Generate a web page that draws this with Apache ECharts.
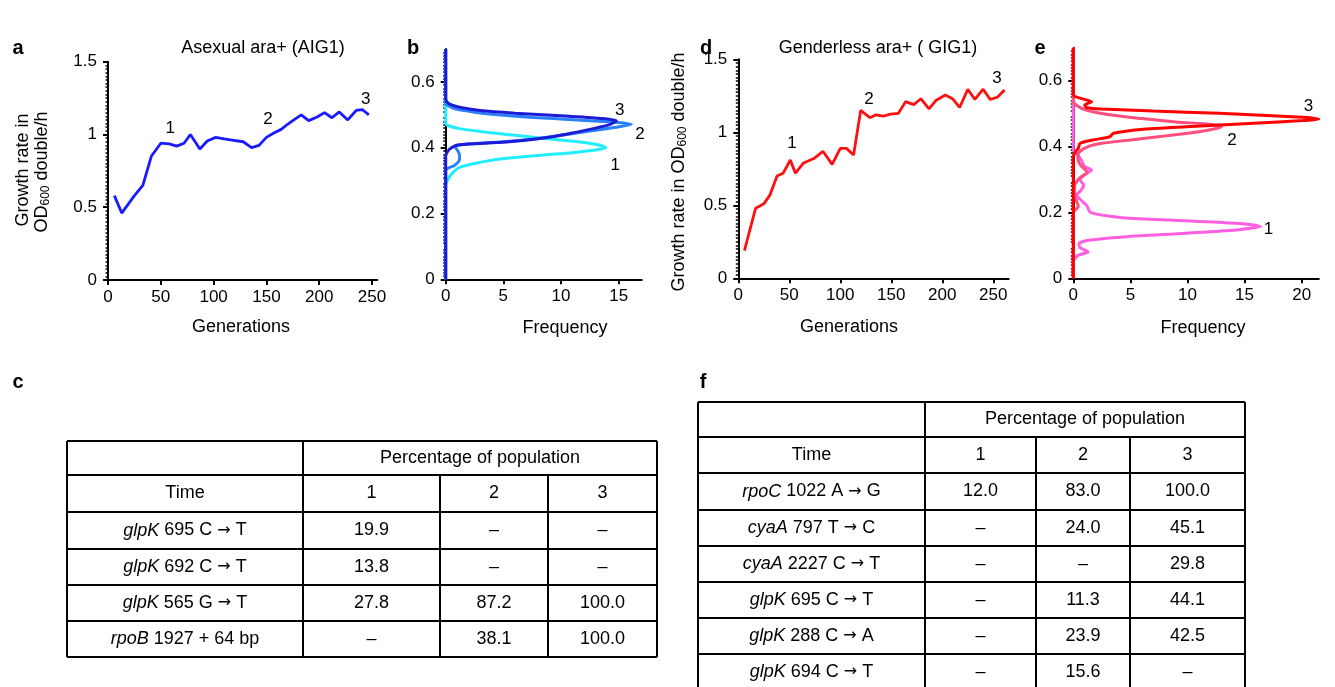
<!DOCTYPE html>
<html>
<head>
<meta charset="utf-8">
<script src="https://cdn.jsdelivr.net/npm/echarts@6/dist/echarts.min.js"></script>
<style>
  html, body { margin: 0; padding: 0; background: #fff; }
  #main { width: 1335px; height: 687px; }
</style>
</head>
<body>
<div id="main"></div>
<script>
// panel a: asexual growth rate vs generations
var asexGen  = [6, 13, 19, 25, 33, 41, 50, 58, 65, 72, 78, 87, 94, 102, 110, 119, 128, 136, 143, 150, 157, 164, 170, 176, 183, 190, 198, 205, 212, 219, 227, 235, 241, 247];
var asexRate = [0.58, 0.46, 0.52, 0.58, 0.65, 0.85, 0.94, 0.935, 0.92, 0.94, 1.0, 0.90, 0.955, 0.98, 0.97, 0.96, 0.95, 0.91, 0.925, 0.98, 1.01, 1.035, 1.07, 1.10, 1.135, 1.095, 1.12, 1.15, 1.115, 1.155, 1.10, 1.165, 1.17, 1.135];
var asexMarks = [[59, 1.045, '1'], [151.5, 1.107, '2'], [244, 1.244, '3']];

// panel d: genderless growth rate vs generations
var genGen  = [6, 17, 25, 31, 38, 44, 51, 56, 64, 74, 83, 92, 100, 106, 113, 120, 129, 135, 142, 149, 157, 164, 172, 179, 187, 194, 203, 210, 217, 225, 232, 240, 247, 254, 261];
var genRate = [0.19, 0.48, 0.51, 0.57, 0.70, 0.72, 0.81, 0.72, 0.79, 0.82, 0.87, 0.78, 0.89, 0.89, 0.845, 1.15, 1.10, 1.12, 1.11, 1.125, 1.13, 1.21, 1.19, 1.23, 1.16, 1.22, 1.255, 1.23, 1.17, 1.295, 1.225, 1.295, 1.225, 1.24, 1.29];
var genMarks = [[52.6, 0.927, '1'], [128, 1.228, '2'], [253.6, 1.372, '3']];

// panel b: growth-rate distributions (frequency, rate)
var bRate1 = [0, 0.287, 0.31, 0.327, 0.34, 0.352, 0.362, 0.37, 0.378, 0.385, 0.392, 0.40, 0.408, 0.418, 0.428, 0.438, 0.448, 0.458, 0.466, 0.475, 0.7];
var bFreq1 = [0, 0, 0.3, 0.7, 1.2, 2.5, 4, 6, 8.5, 11, 12.8, 13.9, 13.3, 11.5, 8.5, 6, 3.3, 1.2, 0.3, 0, 0];
var bRate2 = [0, 0.33, 0.347, 0.365, 0.378, 0.393, 0.403, 0.41, 0.418, 0.428, 0.44, 0.452, 0.462, 0.471, 0.478, 0.485, 0.492, 0.50, 0.508, 0.518, 0.528, 0.535, 0.7];
var bFreq2 = [0, 0, 0.8, 1.2, 1.2, 1.0, 0.8, 1.5, 5, 8, 10.5, 12.8, 14.8, 16.1, 14.5, 11, 7.6, 4.5, 2.5, 0.8, 0.2, 0, 0];
var bRate3 = [0, 0.375, 0.39, 0.40, 0.408, 0.413, 0.418, 0.425, 0.435, 0.445, 0.458, 0.47, 0.482, 0.489, 0.497, 0.505, 0.513, 0.522, 0.53, 0.54, 0.55, 0.7];
var bFreq3 = [0, 0, 0.2, 0.5, 1.0, 3, 5.5, 7.5, 9.5, 11, 12.8, 14.2, 14.8, 13.4, 10, 6, 3, 1.3, 0.5, 0.1, 0, 0];
var bMarks = [[15.1, 0.514, '3'], [16.85, 0.44, '2'], [14.7, 0.347, '1']];

// panel e: growth-rate distributions (frequency, rate)
var eRate1 = [0, 0.05, 0.07, 0.08, 0.093, 0.105, 0.115, 0.125, 0.137, 0.147, 0.157, 0.167, 0.177, 0.185, 0.2, 0.22, 0.24, 0.253, 0.268, 0.283, 0.299, 0.319, 0.329, 0.339, 0.359, 0.374, 0.39, 0.7];
var eFreq1 = [0, 0, 0.44, 1.3, 0.6, 0.5, 1.2, 4.1, 9.9, 14.3, 16.4, 14.3, 8.5, 4.1, 1.5, 1.2, 0.6, 0.3, 0.7, 0.9, 0.6, 1.2, 1.6, 1.0, 0.7, 0.4, 0, 0];
var eRate2 = [0, 0.2, 0.218, 0.233, 0.25, 0.28, 0.299, 0.309, 0.322, 0.345, 0.365, 0.383, 0.40, 0.41, 0.42, 0.432, 0.445, 0.455, 0.462, 0.468, 0.475, 0.485, 0.495, 0.51, 0.525, 0.54, 0.7];
var eFreq2 = [0, 0, 0.44, 0.3, 0.1, 0.1, 0.4, 0.7, 1.2, 0.6, 0.4, 0.5, 1.3, 2.5, 5, 8, 11, 12.5, 13.0, 12, 9, 6, 3.5, 1.2, 0.3, 0, 0];
var eRate3 = [0, 0.37, 0.385, 0.395, 0.41, 0.42, 0.43, 0.44, 0.447, 0.452, 0.46, 0.471, 0.479, 0.483, 0.489, 0.501, 0.508, 0.514, 0.518, 0.526, 0.536, 0.544, 0.552, 0.56, 0.7];
var eFreq3 = [0, 0, 0.2, 0.44, 0.6, 1.7, 3.2, 3.5, 4.7, 5.9, 9.9, 15.8, 20.1, 21.5, 20.1, 12.8, 7.0, 2.5, 1.2, 1.0, 1.6, 0.9, 0.15, 0, 0];
var eMarks = [[20.6, 0.523, '3'], [13.9, 0.418, '2'], [17.1, 0.15, '1']];

// tables c and f
var tableHead = ['Time', '1', '2', '3'];
var tableTitle = 'Percentage of population';
var cGenes = ['glpK', 'glpK', 'glpK', 'rpoB'];
var cMuts  = [' 695 C \u2192 T', ' 692 C \u2192 T', ' 565 G \u2192 T', ' 1927 + 64 bp'];
var cT1 = ['19.9', '13.8', '27.8', '\u2013'];
var cT2 = ['\u2013', '\u2013', '87.2', '38.1'];
var cT3 = ['\u2013', '\u2013', '100.0', '100.0'];
var fGenes = ['rpoC', 'cyaA', 'cyaA', 'glpK', 'glpK', 'glpK'];
var fMuts  = [' 1022 A \u2192 G', ' 797 T \u2192 C', ' 2227 C \u2192 T', ' 695 C \u2192 T', ' 288 C \u2192 A', ' 694 C \u2192 T'];
var fT1 = ['12.0', '\u2013', '\u2013', '\u2013', '\u2013', '\u2013'];
var fT2 = ['83.0', '24.0', '\u2013', '11.3', '23.9', '15.6'];
var fT3 = ['100.0', '45.1', '29.8', '44.1', '42.5', '\u2013'];

var FONT = "'Liberation Sans', Arial, sans-serif";
var FS = 17;   // tick labels
var TS = 18;   // titles, tables

function zip(a, b) {
	return a.map(function (v, i) { return [v, b[i]]; });
}

function xAx(gi, max, ticks) {
	return {
		type: 'value', gridIndex: gi, min: 0, max: max, interval: ticks[1] - ticks[0],
		axisLine: { lineStyle: { color: '#000', width: 2 } },
		axisTick: { customValues: ticks, length: 5, lineStyle: { color: '#000', width: 2 } },
		axisLabel: { customValues: ticks, margin: 9, color: '#000', fontSize: FS, fontFamily: FONT },
		splitLine: { show: false }
	};
}

function yAx(gi, max, interval, ticks, minorSplit) {
	return {
		type: 'value', gridIndex: gi, min: 0, max: max, interval: interval,
		axisLine: { show: true, lineStyle: { color: '#000', width: 2 } },
		axisTick: { show: true, customValues: ticks, length: 5, lineStyle: { color: '#000', width: 2 } },
		minorTick: { show: true, splitNumber: minorSplit, length: 2.5, lineStyle: { color: '#000', width: 1.5 } },
		axisLabel: { customValues: ticks, margin: 11, color: '#000', fontSize: FS, fontFamily: FONT },
		splitLine: { show: false },
		minorSplitLine: { show: false }
	};
}

function curve(gi, data, color, w, smooth) {
	return {
		type: 'line', xAxisIndex: gi, yAxisIndex: gi, data: data,
		showSymbol: false, symbol: 'none', smooth: smooth,
		lineStyle: { color: color, width: w }
	};
}

function txt(x, y, text, opt) {
	opt = opt || {};
	var size = opt.size || TS;
	return {
		type: 'text', x: x, y: y, rotation: opt.rot || 0,
		style: {
			text: text, fill: '#000', font: (opt.bold ? 'bold ' : '') + size + 'px ' + FONT,
			align: opt.align || 'center', verticalAlign: 'middle',
			rich: {
				i: { fontStyle: 'italic', fontSize: size, fontFamily: FONT, lineHeight: 20 },
				a: { fontSize: size - 2, fontFamily: "'DejaVu Sans', sans-serif", lineHeight: 20 },
				s: { fontSize: 12, fontFamily: FONT, verticalAlign: 'bottom', lineHeight: 12 },
				n: { fontSize: size, fontFamily: FONT, lineHeight: 20 }
			}
		}
	};
}

function line(x1, y1, x2, y2) {
	return { type: 'line', shape: { x1: x1, y1: y1, x2: x2, y2: y2 }, style: { stroke: '#000', lineWidth: 2 } };
}

// 表格：按行列坐标画线和文字
function table(xs, ys, genes, muts, t1, t2, t3) {
	var els = [];
	var L = xs[0], R = xs[xs.length - 1], T = ys[0], B = ys[ys.length - 1];
	ys.forEach(function (y) { els.push(line(L, y, R, y)); });
	els.push(line(L, T, L, B));
	els.push(line(xs[1], T, xs[1], B));
	els.push(line(xs[2], ys[1], xs[2], B));
	els.push(line(xs[3], ys[1], xs[3], B));
	els.push(line(R, T, R, B));
	var cx = [];
	for (var k = 0; k < 4; k++) cx.push((xs[k] + xs[k + 1]) / 2);
	function cy(r) { return (ys[r] + ys[r + 1]) / 2; }
	els.push(txt((xs[1] + R) / 2, cy(0), tableTitle));
	tableHead.forEach(function (h, k) { els.push(txt(cx[k], cy(1), h)); });
	genes.forEach(function (g, r) {
		var parts = muts[r].split('\u2192');
		var rest = parts.length > 1 ? '{n|' + parts[0] + '}{a|\u2192}{n|' + parts[1] + '}' : '{n|' + parts[0] + '}';
		els.push(txt(cx[0], cy(r + 2), '{i|' + g + '}' + rest));
		els.push(txt(cx[1], cy(r + 2), t1[r]));
		els.push(txt(cx[2], cy(r + 2), t2[r]));
		els.push(txt(cx[3], cy(r + 2), t3[r]));
	});
	return els;
}

var graphics = [
	txt(18, 48, 'a', { bold: true, size: 20 }),
	txt(413, 48, 'b', { bold: true, size: 20 }),
	txt(706, 48, 'd', { bold: true, size: 20 }),
	txt(1040, 48, 'e', { bold: true, size: 20 }),
	txt(18, 382, 'c', { bold: true, size: 20 }),
	txt(703, 382, 'f', { bold: true, size: 20 }),
	txt(263, 48, 'Asexual ara+ (AIG1)'),
	txt(878, 48, 'Genderless ara+ ( GIG1)'),
	txt(241, 327, 'Generations'),
	txt(849, 327, 'Generations'),
	txt(565, 328, 'Frequency'),
	txt(1203, 328, 'Frequency'),
	txt(23, 170, '{n|Growth rate in}', { rot: Math.PI / 2 }),
	txt(42, 172, '{n|OD}{s|600}{n| double/h}', { rot: Math.PI / 2 }),
	txt(679, 172, '{n|Growth rate in OD}{s|600}{n| double/h}', { rot: Math.PI / 2 })
].concat(
	table([67, 303, 440, 548, 657], [441, 475, 512, 549, 585, 621, 657], cGenes, cMuts, cT1, cT2, cT3),
	table([698, 925, 1036, 1130, 1245], [402, 437, 473, 510, 546, 582, 618, 654, 690], fGenes, fMuts, fT1, fT2, fT3)
);

var chart = echarts.init(document.getElementById('main'));
var option = {
	animation: false,
	backgroundColor: '#fff',
	grid: [
		{ left: 108, top: 61.7, width: 269.3, height: 218.3, outerBoundsMode: 'none' },
		{ left: 445.7, top: 49, width: 196, height: 230.3, outerBoundsMode: 'none' },
		{ left: 738.3, top: 59.3, width: 270.3, height: 219, outerBoundsMode: 'none' },
		{ left: 1073.3, top: 47.8, width: 245.5, height: 230.5, outerBoundsMode: 'none' }
	],
	xAxis: [
		xAx(0, 255, [0, 50, 100, 150, 200, 250]),
		xAx(1, 17, [0, 5, 10, 15]),
		xAx(2, 265, [0, 50, 100, 150, 200, 250]),
		xAx(3, 21.5, [0, 5, 10, 15, 20])
	],
	yAxis: [
		yAx(0, 1.5, 0.5, [0, 0.5, 1, 1.5], 20),
		yAx(1, 0.7, 0.1, [0, 0.2, 0.4, 0.6], 10),
		yAx(2, 1.5, 0.5, [0, 0.5, 1, 1.5], 20),
		yAx(3, 0.7, 0.1, [0, 0.2, 0.4, 0.6], 10)
	],
	series: [
		curve(0, zip(asexGen, asexRate), '#1a1aff', 2.8, false),
		curve(1, zip(bFreq1, bRate1), '#22eeff', 3, 0.25),
		curve(1, zip(bFreq2, bRate2), '#2a80ff', 3, 0.25),
		curve(1, zip(bFreq3, bRate3), '#1c1cd6', 3, 0.25),
		curve(2, zip(genGen, genRate), '#ff1010', 2.8, false),
		curve(3, zip(eFreq1, eRate1), '#ff5fe0', 3, 0.25),
		curve(3, zip(eFreq2, eRate2), '#ff4f7f', 3, 0.25),
		curve(3, zip(eFreq3, eRate3), '#ff0000', 3, 0.25)
	]
};
chart.setOption(option);

// 曲线编号：用坐标轴换算位置
var markSets = [asexMarks, bMarks, genMarks, eMarks];
markSets.forEach(function (set, gi) {
	set.forEach(function (m) {
		var p = chart.convertToPixel({ gridIndex: gi }, [m[0], m[1]]);
		graphics.push(txt(p[0], p[1], m[2], { size: FS }));
	});
});
chart.setOption({ graphic: { elements: graphics } });
</script>
</body>
</html>
